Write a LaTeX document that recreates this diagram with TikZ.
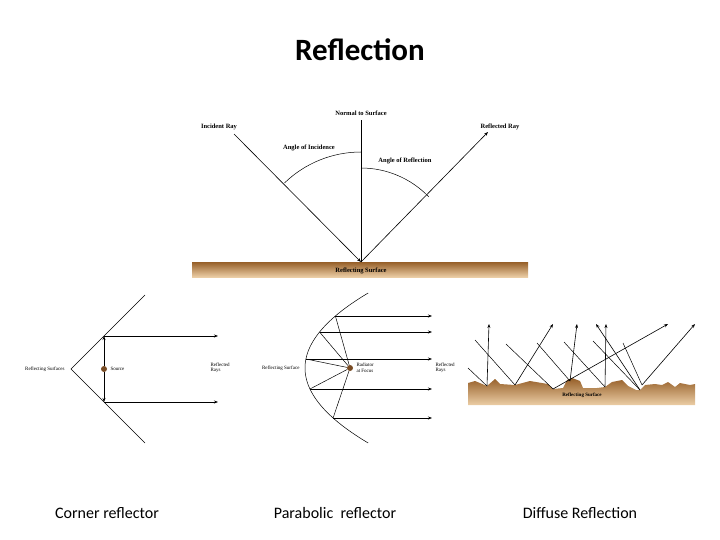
\documentclass[tikz,border=0pt]{standalone}
\usepackage{fontspec}
\setmainfont{Liberation Serif}
\newfontfamily\carlitofnt{Carlito}
\usetikzlibrary{arrows.meta}
\definecolor{brn}{RGB}{150,95,40}
\definecolor{brnl}{RGB}{235,205,165}
\definecolor{dot}{RGB}{120,75,35}
\tikzset{lbl/.style={font=\bfseries\fontsize{6.5}{7}\selectfont},
 tiny/.style={font=\fontsize{5}{5.5}\selectfont, align=left},
 ray/.style={line width=0.6pt,-{Stealth[length=4pt,width=3pt]}},
 thin/.style={line width=0.5pt},
 capt/.style={font=\carlitofnt\fontsize{16}{18}\selectfont}}
\begin{document}
\begin{tikzpicture}[x=1pt,y=-1pt]
\useasboundingbox (0,0) rectangle (720,540);
\node[font=\carlitofnt\bfseries\fontsize{31}{34}\selectfont] (title) at (360,50) {Reflection};
% top
\shade[top color=brn, bottom color=brnl] (192,262) rectangle (528,277);
\node[lbl] (rs) at (361,271) {Reflecting Surface};
\coordinate (P) at (361,262);
\coordinate (N) at (361,120);
\coordinate (I) at (234,134);
\coordinate (R) at (488,132);
\draw[thin] (P) -- (N);
\draw[ray] (I) -- (P);
\draw[ray] (P) -- (R);
\draw[thin] (361,152) arc[start angle=-90, end angle=-134, radius=110];
\draw[thin] (361,168) arc[start angle=-90, end angle=-44, radius=94];
\node[lbl] (nl) at (361,113) {Normal to Surface};
\node[lbl] (il) at (219,127) {Incident Ray};
\node[lbl] (rl) at (500,127) {Reflected Ray};
\node[lbl] (ai) at (309,148) {Angle of Incidence};
\node[lbl] (ar) at (405,161) {Angle of Reflection};
% corner
\coordinate (V) at (71,369);
\draw[thin] (145,295) -- (V) -- (145,443);
\node[circle,fill=dot,inner sep=0pt,minimum size=6pt] (S) at (104,369) {};
\coordinate (C1) at (104,336);
\coordinate (C2) at (104,402);
\draw[ray] (S) -- (C1);
\draw[ray] (S) -- (C2);
\draw[ray] (C1) -- (218,336);
\draw[ray] (C2) -- (218,402);
\node[tiny,anchor=east] (cl) at (68,369) {Reflecting Surfaces};
\node[tiny,anchor=west] (sl) at (107,369) {Source};
\node[tiny,anchor=west] (crl) at (207,368) {Reflected\\Rays};
% parabolic
\draw[thin,domain=293:443,samples=60,variable=\y] plot ({305+(\y-368)^2/89},\y);
\node[circle,fill=dot,inner sep=0pt,minimum size=6pt] (F) at (350,368) {};
\foreach \yy [count=\i] in {316,332,359,389,418}{
  \coordinate (q\i) at ({305+(\yy-368)^2/89},\yy);
  \draw[thin] (F) -- (q\i);
  \draw[ray] (q\i) -- (432,\yy);
}
\node[tiny,anchor=east] (pl) at (303,368) {Reflecting Surface};
\node[tiny,anchor=west] (fl) at (353,368) {Radiator\\at Focus};
\node[tiny,anchor=west] (prl) at (432,368) {Reflected\\Rays};
% diffuse
\shade[top color=brn, bottom color=brnl] (468,383) -- (475,381) -- (487,386) -- (495,379) -- (500,384) -- (515,385) -- (530,381) -- (548,384) -- (553,389) -- (563,388) -- (567,380) -- (572,378) -- (580,381) -- (583,388) -- (597,388) -- (605,387) -- (612,382) -- (622,380) -- (628,386) -- (636,390) -- (640,390) -- (645,385) -- (655,384) -- (662,385) -- (668,382) -- (675,387) -- (680,383) -- (690,385) -- (695,384) -- (695,405) -- (468,405) -- cycle;
\node[font=\bfseries\fontsize{5}{5.5}\selectfont] (dl) at (582,395) {Reflecting Surface};
\draw[thin] (468,368) -- (487,386);
\draw[thin] (475,340) -- (515,385);
\draw[thin] (506,344) -- (553,389);
\draw[thin] (537,343) -- (570,381);
\draw[thin] (564,342) -- (605,387);
\draw[thin] (593,341) -- (640,390);
\draw[thin] (623,343) -- (642,385);
\draw[ray] (487,386) -- (489,324);
\draw[ray] (515,385) -- (553,324);
\draw[ray] (570,381) -- (577,324);
\draw[ray] (605,387) -- (606,324);
\draw[ray] (640,390) -- (596,324);
\draw[ray] (553,389) -- (668,324);
\draw[ray] (642,385) -- (695,324);
% captions
\node[capt] (c1) at (107,513) {Corner reflector};
\node[capt] (c2) at (335,513) {Parabolic\ \ reflector};
\node[capt] (c3) at (580,513) {Diffuse Reflection};
\end{tikzpicture}
\end{document}
